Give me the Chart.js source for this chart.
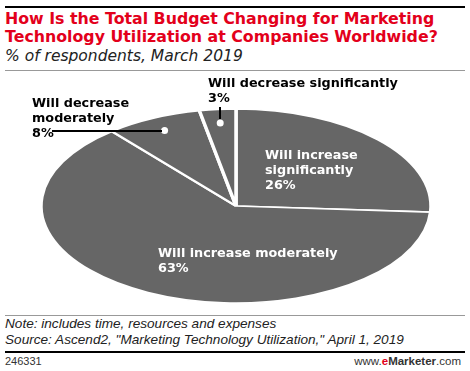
<!DOCTYPE html>
<html>
<head>
<meta charset="utf-8">
<script src="https://cdn.jsdelivr.net/npm/chart.js@4"></script>
<style>
  body { margin: 0; width: 470px; height: 371px; background: #fff; position: relative; overflow: hidden;
         font-family: "Liberation Sans", Arial, sans-serif; }
  .abs { position: absolute; white-space: nowrap; }
  .rule { position: absolute; left: 5px; width: 460px; }
  .lead { position: absolute; background: #000; }
  #title { left: 5px; top: 10px; color: #e3001b; font-family: "DejaVu Sans", sans-serif; font-weight: bold;
           font-size: 15.8px; line-height: 17.5px; }
  #sub { left: 5px; top: 48px; font-family: "DejaVu Sans", sans-serif; font-style: italic; font-size: 15.5px;
         line-height: 17px; color: #222; }
  #foot { left: 5px; top: 316px; font-style: italic; font-size: 13.6px; line-height: 16px; color: #222; }
  #id { left: 5px; top: 355px; font-size: 11px; color: #333; }
  #brand { right: 9px; top: 355px; font-size: 11.5px; color: #333; }
  #wrap { position: absolute; left: 0; top: 70px; width: 470px; height: 245px; }
</style>
</head>
<body>
<div class="rule" style="top:6px;height:2px;background:#000"></div>
<div class="abs" id="title">How Is the Total Budget Changing for Marketing<br>Technology Utilization at Companies Worldwide?</div>
<div class="abs" id="sub">% of respondents, March 2019</div>
<div class="rule" style="top:70px;height:1px;background:#999"></div>
<div class="rule" style="top:315px;height:1px;background:#999"></div>
<div class="abs" id="foot">Note: includes time, resources and expenses<br>Source: Ascend2, "Marketing Technology Utilization," April 1, 2019</div>
<div class="rule" style="top:351px;height:2px;background:#000"></div>
<div class="abs" id="id">246331</div>
<div class="abs" id="brand">www.<b style="color:#e3001b">e</b><b>Marketer</b>.com</div>
<div id="wrap"><canvas id="pie"></canvas></div>
<div class="lead" id="lead8"></div>
<div class="lead" id="lead3"></div>
<script>
// slices clockwise from 12 o'clock
const labels = ['Will increase significantly', 'Will increase moderately', 'Will decrease moderately', 'Will decrease significantly'];
const values = [26, 63, 8, 3];

const SQUASH = 97 / 195; // pie is drawn as a flattened ellipse
const TOP = 70; // canvas offset on the page

const ellipse = {
  id: 'ellipse',
  beforeDatasetsDraw(chart) {
    const arc = chart.getDatasetMeta(0).data[0];
    const ctx = chart.ctx;
    ctx.save();
    ctx.translate(arc.x, arc.y);
    ctx.scale(1, SQUASH);
    ctx.translate(-arc.x, -arc.y);
  },
  afterDatasetsDraw(chart) {
    chart.ctx.restore();
  }
};

const sliceLabels = {
  id: 'sliceLabels',
  afterDraw(chart) {
    const ctx = chart.ctx;
    const arcs = chart.getDatasetMeta(0).data;
    const dot = i => {
      const a = arcs[i];
      const mid = (a.startAngle + a.endAngle) / 2;
      return [a.x + Math.cos(mid) * a.outerRadius * 0.86, a.y + Math.sin(mid) * a.outerRadius * 0.86 * SQUASH];
    };
    const text = (lines, x, y, color) => {
      ctx.fillStyle = color;
      lines.forEach((t, k) => ctx.fillText(t, x, y + k * 15.2));
    };
    ctx.save();
    ctx.font = 'bold 12.8px "DejaVu Sans", sans-serif';
    text(['Will increase', 'significantly', values[0] + '%'], 265, 89, '#fff');
    text(['Will increase moderately', values[1] + '%'], 158, 187, '#fff');
    text(['Will decrease', 'moderately', values[2] + '%'], 32, 37, '#000');
    text(['Will decrease significantly', values[3] + '%'], 208, 17, '#000');

    const d2 = dot(2), d3 = dot(3);
    ctx.fillStyle = '#fff';
    [d2, d3].forEach(p => {
      ctx.beginPath();
      ctx.arc(p[0], p[1], 3.5, 0, Math.PI * 2);
      ctx.fill();
    });
    ctx.restore();

    // leader lines from the labels to the dots
    const l8 = document.getElementById('lead8').style;
    l8.left = '52px';
    l8.top = (Math.round(d2[1]) - 1 + TOP) + 'px';
    l8.width = Math.round(d2[0] - 55) + 'px';
    l8.height = '1.5px';
    const l3 = document.getElementById('lead3').style;
    l3.left = (Math.round(d3[0]) - 1) + 'px';
    l3.top = (37 + TOP) + 'px';
    l3.width = '1.5px';
    l3.height = Math.round(d3[1] - 41) + 'px';
  }
};

new Chart(document.getElementById('pie'), {
  type: 'pie',
  data: {
    labels: labels,
    datasets: [{
      data: values,
      backgroundColor: '#666666',
      borderColor: '#ffffff',
      borderWidth: 3.5,
      radius: 195
    }]
  },
  options: {
    responsive: true,
    maintainAspectRatio: false,
    animation: false,
    layout: { padding: { left: 2, right: 0, top: 27, bottom: 0 } },
    plugins: {
      legend: { display: false },
      tooltip: { enabled: false }
    }
  },
  plugins: [ellipse, sliceLabels]
});
</script>
</body>
</html>
